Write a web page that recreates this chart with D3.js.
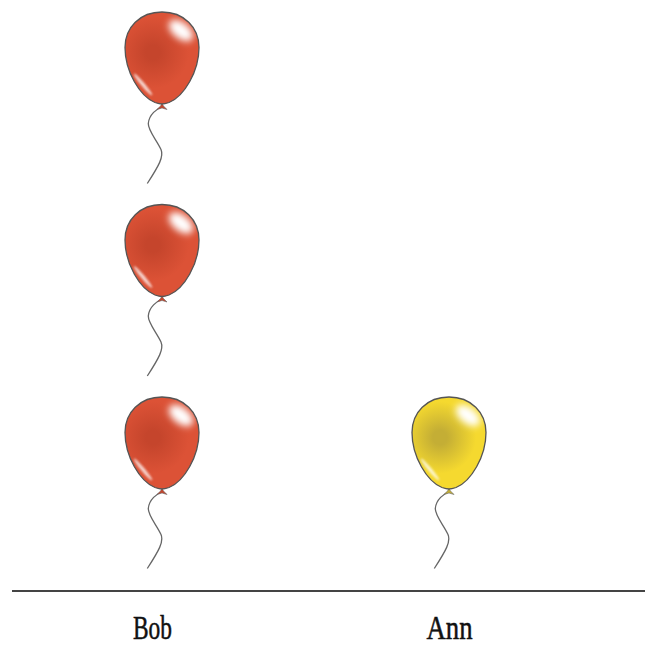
<!DOCTYPE html>
<html lang="en">
  <head>
    <meta charset="UTF-8"/>
    <title>Balloons</title>
    <script src="https://d3js.org/d3.v7.min.js"></script>
    <style>
      body { margin: 0; background: #fff; overflow: hidden; }
      svg { display: block; }
      .name {
        font-family: 'Liberation Serif', serif;
        font-size: 33px;
        fill: #111;
        stroke: #111;
        stroke-width: 0.5px;
      }
    </style>
  </head>
  <body>
    <script type="text/javascript">

      const names = ["Bob", "Ann"]
      const balloons = [3, 1]
      const colours = ["#dc5236", "#f5d92f"]
      const shades = ["#c5452c", "#c4ae35"]
      const labelShift = [-10, 0]
      const labelWidth = [39, 46]

      const outerWidth = 645,
            outerHeight = 646,
            baseline = 591

      const svg = d3.select("body").append("svg")
          .attr("width", outerWidth)
          .attr("height", outerHeight)

      const xScale = d3.scalePoint()
          .domain(names)
          .range([162, 449])

      // one balloon tall, string end sits on the value
      const yScale = d3.scaleLinear()
          .domain([0, 3])
          .range([568.5, -9])

      // balloon symbol, origin is where the string ends
      const skin = "M0,-171.5 C22,-171.5 37,-156 37,-136 C37,-112 22,-87 7,-81 C4,-80 1.5,-79.5 0,-79.5 C-1.5,-79.5 -4,-80 -7,-81 C-22,-87 -37,-112 -37,-136 C-37,-156 -22,-171.5 0,-171.5 Z"
      const knot = "M0,-80 L1.5,-77.5 L5,-74 L0,-75.5 L-5,-74 L-1.5,-77.5 Z"
      const string = "M0.5,-77 C-5,-75 -13,-69 -13.7,-60 C-14,-53 -5,-43 -1,-34 C2,-27 -3,-18 -14.7,0"

      const defs = svg.append("defs")

      defs.append("clipPath").attr("id", "skin")
        .append("path").attr("d", skin)

      defs.append("filter").attr("id", "soft")
          .attr("x", "-60%").attr("y", "-60%")
          .attr("width", "220%").attr("height", "220%")
        .append("feGaussianBlur").attr("stdDeviation", 3.8)

      defs.append("filter").attr("id", "softer")
          .attr("x", "-50%").attr("y", "-50%")
          .attr("width", "200%").attr("height", "200%")
        .append("feGaussianBlur").attr("stdDeviation", 1.3)

      names.forEach((name, i) => {
          const grad = defs.append("radialGradient")
              .attr("id", `body-${i}`)
              .attr("gradientUnits", "userSpaceOnUse")
              .attr("cx", -9).attr("cy", -131).attr("r", 36)
          grad.append("stop").attr("offset", 0).attr("stop-color", shades[i])
          grad.append("stop").attr("offset", 0.2).attr("stop-color", shades[i])
          grad.append("stop").attr("offset", 1).attr("stop-color", colours[i])
      })

      const data = names.flatMap((name, i) =>
          d3.range(balloons[i]).map(slot => ({name, i, slot})))

      const balloon = svg.append("g")
        .selectAll("g")
        .data(data)
        .join("g")
          .attr("transform", d => `translate(${xScale(d.name)},${yScale(d.slot)})`)

      balloon.append("path")
          .attr("d", string)
          .attr("fill", "none")
          .attr("stroke", "#666")
          .attr("stroke-width", 1.3)

      balloon.append("path")
          .attr("d", knot)
          .attr("fill", d => shades[d.i])
          .attr("stroke", "#666")
          .attr("stroke-width", 0.6)

      balloon.append("path")
          .attr("d", skin)
          .attr("fill", d => `url(#body-${d.i})`)

      const shine = balloon.append("g")
          .attr("clip-path", "url(#skin)")

      shine.append("ellipse")
          .attr("rx", 14)
          .attr("ry", 8)
          .attr("transform", "translate(19,-153) rotate(38)")
          .attr("fill", "#fff")
          .attr("filter", "url(#soft)")

      shine.append("ellipse")
          .attr("rx", 14)
          .attr("ry", 1.7)
          .attr("transform", "translate(-19,-99) rotate(50)")
          .attr("fill", "#fff")
          .attr("opacity", 0.8)
          .attr("filter", "url(#softer)")

      balloon.append("path")
          .attr("d", skin)
          .attr("fill", "none")
          .attr("stroke", "#555")
          .attr("stroke-width", 1.3)

      // baseline and names
      const axis = svg.append("g")
          .attr("transform", `translate(0,${baseline})`)
          .call(d3.axisBottom(xScale).tickSize(0).tickPadding(0))

      axis.select(".domain").remove()

      axis.append("line")
          .attr("x1", 12)
          .attr("x2", outerWidth)
          .attr("stroke", "#444")
          .attr("stroke-width", 1.8)

      axis.selectAll(".tick text")
          .attr("class", "name")
          .attr("font-size", null)
          .attr("font-family", null)
          .attr("fill", null)
          .attr("dy", null)
          .attr("y", 47.5)
          .attr("dx", (d, i) => labelShift[i])
          .attr("textLength", (d, i) => labelWidth[i])
          .attr("lengthAdjust", "spacingAndGlyphs")

    </script>
  </body>
</html>
